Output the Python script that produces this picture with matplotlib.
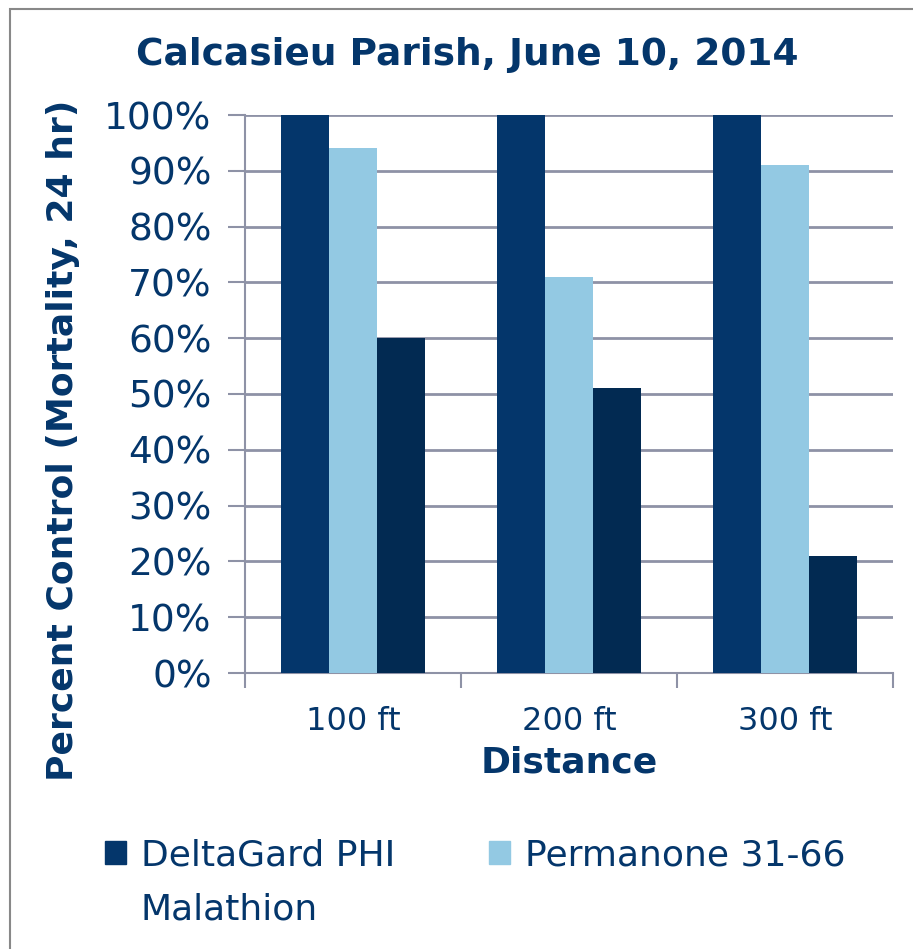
import matplotlib.pyplot as plt
import numpy as np
from matplotlib.patches import Rectangle

# Data
distances = ['100 ft', '200 ft', '300 ft']
deltagard = [100, 100, 100]
permanone = [94, 71, 91]
malathion = [60, 51, 21]
series_names = ['DeltaGard PHI', 'Permanone 31-66', 'Malathion']
colors = ['#04366b', '#93c9e3', '#022a52']

navy = '#04366b'
grid_col = '#8e92a6'

plt.rcParams['font.family'] = ['DejaVu Sans']

fig = plt.figure(figsize=(9.13, 9.49), dpi=100)
ax = fig.add_axes([245 / 913, 1 - 673 / 949, 648 / 913, 558 / 949])

x = np.arange(len(distances))
w = 2 / 9
for i, vals in enumerate([deltagard, permanone, malathion]):
    ax.bar(x + (i - 1) * w, vals, width=w, color=colors[i],
           label=series_names[i], zorder=3)

ax.set_xlim(-0.5, 2.5)
ax.set_ylim(0, 100)
ax.set_yticks(np.arange(0, 101, 10))
ax.set_yticklabels([f'{v}%' for v in range(0, 101, 10)])
ax.set_xticks(x)
ax.set_xticklabels(distances)
ax.set_xticks([-0.5, 0.5, 1.5, 2.5], minor=True)
ax.tick_params(axis='x', which='major', length=0, pad=24,
               labelsize=23, labelcolor=navy)
ax.tick_params(axis='x', which='minor', length=11, width=1.5,
               color=grid_col)
ax.tick_params(axis='y', length=12, width=1.5, color=grid_col,
               labelsize=27, labelcolor=navy, pad=12)
ax.grid(axis='y', color=grid_col, linewidth=2, zorder=0)

for s in ['top', 'right']:
    ax.spines[s].set_visible(False)
for s in ['left', 'bottom']:
    ax.spines[s].set_color(grid_col)
    ax.spines[s].set_linewidth(1.5)

ax.set_xlabel('Distance', fontsize=26, fontweight='bold', color=navy,
              labelpad=6)
ax.set_ylabel('Percent Control (Mortality, 24 hr)', fontsize=26,
              fontweight='bold', color=navy)
ax.yaxis.set_label_coords((80 - 245) / 648, (673 - 440) / 558)
fig.text(467 / 913, 1 - 55 / 949, 'Calcasieu Parish, June 10, 2014',
         fontsize=27, fontweight='bold', color=navy,
         ha='center', va='center')

# legend, row-major order; Malathion shows no swatch in the reference
handles = [Rectangle((0, 0), 1, 1, color=colors[0]),
           Rectangle((0, 0), 1, 1, color='none'),
           Rectangle((0, 0), 1, 1, color=colors[1])]
labels = [series_names[0], series_names[2], series_names[1]]
leg = fig.legend(handles, labels, loc='upper left',
                 bbox_to_anchor=(72 / 913, 1 - 806 / 949), ncol=2,
                 frameon=False, fontsize=26, handlelength=0.6,
                 handleheight=0.6, handletextpad=0.4, columnspacing=2.6,
                 labelspacing=0.55)
for t in leg.get_texts():
    t.set_color(navy)

# outer frame
fig.patches.append(Rectangle((10 / 913, -0.05), 1.2, 1 - 9 / 949 + 0.05,
                             transform=fig.transFigure, fill=False,
                             edgecolor='#888888', linewidth=1.5))

fig.savefig('out.png', dpi=100)
